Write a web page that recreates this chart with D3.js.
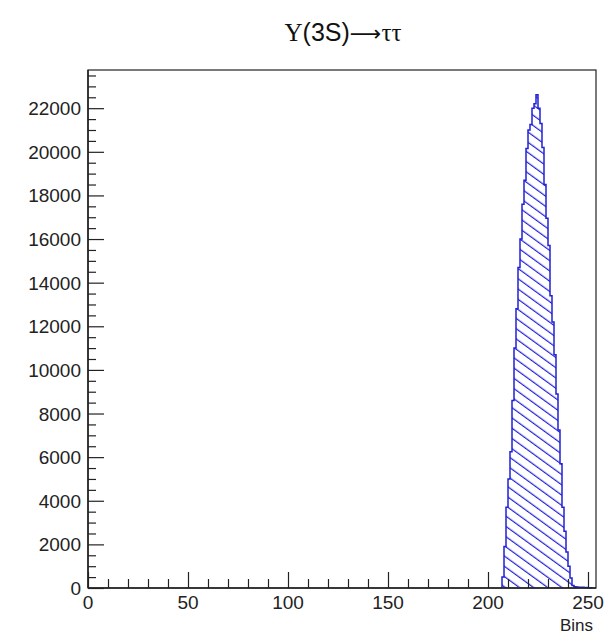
<!DOCTYPE html>
<html>
<head>
<meta charset="utf-8">
<script src="https://cdn.jsdelivr.net/npm/d3@7"></script>
<style>
  html, body { margin: 0; padding: 0; background: #fff; }
  svg { display: block; }
</style>
</head>
<body>
<svg id="chart" width="607" height="637"></svg>
<script>
// Histogram of bin occupancy: low edge of each filled bin (width 1) and its count
const binLowEdges = [207, 208, 209, 210, 211, 212, 213, 214, 215, 216, 217, 218, 219,
  220, 221, 222, 223, 224, 225, 226, 227, 228, 229, 230, 231, 232, 233, 234, 235,
  236, 237, 238, 239, 240, 241, 242, 243, 244, 245, 246, 247, 248, 249, 250, 251];
const binCounts = [500, 1900, 3700, 5000, 6250, 8600, 11000, 12800, 14700, 16000, 17600,
  18700, 20150, 21000, 21250, 22000, 22200, 22620, 22000, 21300, 20200, 18500, 16950,
  15700, 13400, 12200, 10700, 8900, 7250, 5700, 3700, 2600, 1650, 1000, 460, 110,
  60, 50, 40, 35, 30, 25, 20, 15, 10];
const binWidth = 1;

const xTicksMajor = [0, 50, 100, 150, 200, 250];
const yTicksMajor = [0, 2000, 4000, 6000, 8000, 10000, 12000, 14000, 16000, 18000, 20000, 22000];
const xDomain = [0, 254];
const titleParts = [
  { text: "Υ", font: "Liberation Serif", size: 25 },
  { text: "(3S)", font: "Liberation Sans", size: 25 },
  { text: "⟶", font: "DejaVu Sans", size: 22 },
  { text: "ττ", font: "Liberation Serif", size: 25 }
];
const xAxisTitle = "Bins";

const frame = { left: 88, right: 596, top: 70, bottom: 588 };
const svg = d3.select("#chart");
const histColor = "#2020d8";
const textColor = "#222";

const yMax = d3.max(binCounts) * 1.05;
const x = d3.scaleLinear().domain(xDomain).range([frame.left, frame.right]);
const y = d3.scaleLinear().domain([0, yMax]).range([frame.bottom, frame.top]);

// Hatch pattern (diagonal lines running down to the right)
const defs = svg.append("defs");
const pat = defs.append("pattern")
  .attr("id", "hatch")
  .attr("patternUnits", "userSpaceOnUse")
  .attr("width", 20)
  .attr("height", 8.3)
  .attr("patternTransform", "rotate(36)");
pat.append("line")
  .attr("x1", -5).attr("x2", 25)
  .attr("y1", 4).attr("y2", 4)
  .attr("stroke", histColor)
  .attr("stroke-width", 1.2);

// Frame
svg.append("rect")
  .attr("x", frame.left).attr("y", frame.top)
  .attr("width", frame.right - frame.left)
  .attr("height", frame.bottom - frame.top)
  .attr("fill", "none")
  .attr("stroke", "#222")
  .attr("stroke-width", 1.2);

// Histogram outline points (step shape)
const pts = [];
binLowEdges.forEach((lo, i) => {
  pts.push([lo, binCounts[i]]);
});
const lastEdge = binLowEdges[binLowEdges.length - 1] + binWidth;
pts.push([lastEdge, binCounts[binCounts.length - 1]]);
const outline = [[binLowEdges[0], 0]].concat(pts).concat([[lastEdge, 0]]);

const area = d3.area()
  .x(d => x(d[0]))
  .y0(y(0))
  .y1(d => y(d[1]))
  .curve(d3.curveStepAfter);
const line = d3.line()
  .x(d => x(d[0]))
  .y(d => y(d[1]))
  .curve(d3.curveStepAfter);

const plot = svg.append("g");
plot.append("path")
  .datum(pts)
  .attr("d", area)
  .attr("fill", "url(#hatch)");
plot.append("path")
  .datum(outline)
  .attr("d", line)
  .attr("fill", "none")
  .attr("stroke", histColor)
  .attr("stroke-width", 1.5)
  .attr("stroke-linejoin", "miter");

// Axes (ticks drawn inward)
const axisColor = "#222";
const labelFont = "Liberation Sans, Arial, sans-serif";

const xAxis = d3.axisTop(x)
  .tickValues(d3.range(0, 251, 10))
  .tickSize(0)
  .tickFormat("");
const gx = svg.append("g").attr("transform", `translate(0,${frame.bottom})`).call(xAxis);
gx.select(".domain").remove();
gx.selectAll(".tick line")
  .attr("y2", d => (d % 50 === 0 ? -16 : -9))
  .attr("stroke", axisColor)
  .attr("stroke-width", 1.2);
svg.append("line")
  .attr("x1", frame.left).attr("x2", frame.right)
  .attr("y1", frame.bottom).attr("y2", frame.bottom)
  .attr("stroke", axisColor).attr("stroke-width", 1.5);

svg.append("g").selectAll("text")
  .data(xTicksMajor)
  .join("text")
  .attr("x", d => x(d))
  .attr("y", frame.bottom + 21)
  .attr("text-anchor", "middle")
  .attr("font-family", labelFont)
  .attr("font-size", 19)
  .attr("fill", textColor)
  .text(d => d);

const yAxis = d3.axisRight(y)
  .tickValues(d3.range(0, 23501, 500))
  .tickSize(0)
  .tickFormat("");
const gy = svg.append("g").attr("transform", `translate(${frame.left},0)`).call(yAxis);
gy.select(".domain").remove();
gy.selectAll(".tick line")
  .attr("x2", d => (d % 2000 === 0 ? 16 : 8))
  .attr("stroke", axisColor)
  .attr("stroke-width", 1.2);
svg.append("line")
  .attr("x1", frame.left).attr("x2", frame.left)
  .attr("y1", frame.top).attr("y2", frame.bottom)
  .attr("stroke", axisColor).attr("stroke-width", 1.5);

svg.append("g").selectAll("text")
  .data(yTicksMajor)
  .join("text")
  .attr("x", frame.left - 7)
  .attr("y", d => y(d) + 7)
  .attr("text-anchor", "end")
  .attr("font-family", labelFont)
  .attr("font-size", 19)
  .attr("fill", textColor)
  .text(d => d);

// Axis title
svg.append("text")
  .attr("x", frame.right - 3)
  .attr("y", 631)
  .attr("text-anchor", "end")
  .attr("font-family", labelFont)
  .attr("font-size", 17)
  .attr("fill", textColor)
  .text(xAxisTitle);

// Chart title
const title = svg.append("text")
  .attr("x", 343)
  .attr("y", 41)
  .attr("text-anchor", "middle")
  .attr("fill", "#111");
title.selectAll("tspan")
  .data(titleParts)
  .join("tspan")
  .attr("font-family", d => d.font)
  .attr("font-size", d => d.size)
  .text(d => d.text);
</script>
</body>
</html>
